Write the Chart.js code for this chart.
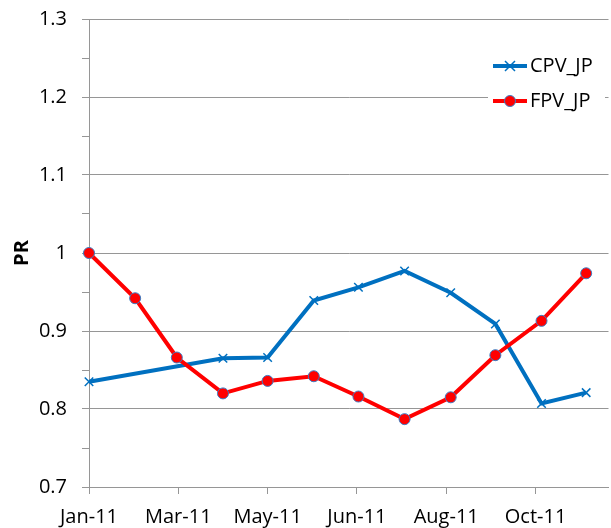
<!DOCTYPE html>
<html>
<head>
<meta charset="utf-8">
<script src="https://cdn.jsdelivr.net/npm/chart.js@4.4.1/dist/chart.umd.min.js"></script>
<style>
  html, body { margin: 0; padding: 0; background: #fff; overflow: hidden; }
  #wrap { width: 611px; height: 528px; overflow: hidden; }
</style>
</head>
<body>
<!-- canvas is a few px wider than the view so the plot runs to the right edge -->
<div id="wrap"><canvas id="chartPR" width="616" height="528"></canvas></div>
<script>
// monthly PR values, 2011
const months = ['2011-01-01', '2011-02-01', '2011-03-01', '2011-04-01', '2011-05-01', '2011-06-01',
                '2011-07-01', '2011-08-01', '2011-09-01', '2011-10-01', '2011-11-01', '2011-12-01'];
const cpvJP = [0.835, null, null, 0.865, 0.866, 0.939, 0.956, 0.977, 0.949, 0.909, 0.807, 0.821];
const fpvJP = [1.0, 0.942, 0.866, 0.820, 0.836, 0.842, 0.816, 0.787, 0.815, 0.869, 0.913, 0.974];

// date axis: ticks every 60 days from Jan 1
const xTickDays = [0, 60, 120, 180, 240, 300];
const xTickLabels = ['Jan-11', 'Mar-11', 'May-11', 'Jun-11', 'Aug-11', 'Oct-11'];
const yTickValues = [0.7, 0.8, 0.9, 1, 1.1, 1.2, 1.3];
const yTickLabels = ['0.7', '0.8', '0.9', '1', '1.1', '1.2', '1.3'];
const yMinorValues = [0.75, 0.85, 0.95, 1.05, 1.15, 1.25];

const FONT = 'Open Sans';
const GRID = '#969696';
const BLUE = '#0070c0';
const RED = '#ff0000';
const RING = '#3b7dc4';

const dayOf = d => Math.round((Date.parse(d) - Date.parse(months[0])) / 864e5);
const toPoints = vals => months.map((m, i) => ({x: dayOf(m), y: vals[i]}));

const isMajor = v => yTickValues.some(t => Math.abs(t - v) < 1e-6);

// legend box drawn inside the plot, top right
const legendBox = {
  id: 'legendBox',
  afterDraw(chart) {
    const ctx = chart.ctx;
    const items = [
      {label: 'CPV_JP', color: BLUE, marker: 'x', y: 66},
      {label: 'FPV_JP', color: RED, marker: 'o', y: 101}
    ];
    ctx.save();
    ctx.fillStyle = '#fff';
    ctx.fillRect(488, 46, 117, 72);
    items.forEach(it => {
      ctx.strokeStyle = it.color;
      ctx.lineWidth = 4;
      ctx.beginPath();
      ctx.moveTo(493, it.y);
      ctx.lineTo(527, it.y);
      ctx.stroke();
      const cx = 510;
      if (it.marker === 'x') {
        ctx.strokeStyle = BLUE;
        ctx.lineWidth = 1.5;
        ctx.beginPath();
        ctx.moveTo(cx - 5, it.y - 5); ctx.lineTo(cx + 5, it.y + 5);
        ctx.moveTo(cx - 5, it.y + 5); ctx.lineTo(cx + 5, it.y - 5);
        ctx.stroke();
      } else {
        ctx.fillStyle = RED;
        ctx.strokeStyle = RING;
        ctx.lineWidth = 1;
        ctx.beginPath();
        ctx.arc(cx, it.y, 5.5, 0, Math.PI * 2);
        ctx.fill();
        ctx.stroke();
      }
      ctx.fillStyle = '#000';
      ctx.font = '20px "' + FONT + '"';
      ctx.textBaseline = 'middle';
      ctx.textAlign = 'left';
      ctx.fillText(it.label, 530, it.y);
    });
    ctx.restore();
  }
};

new Chart(document.getElementById('chartPR'), {
  type: 'line',
  data: {
    datasets: [
      {
        label: 'CPV_JP',
        data: toPoints(cpvJP),
        borderColor: BLUE,
        borderWidth: 4,
        pointStyle: 'crossRot',
        pointRadius: 6,
        pointBorderWidth: 1.5,
        pointBorderColor: BLUE,
        spanGaps: true,
        tension: 0,
        clip: false,
        order: 1
      },
      {
        label: 'FPV_JP',
        data: toPoints(fpvJP),
        borderColor: RED,
        borderWidth: 4,
        pointStyle: 'circle',
        pointRadius: 5.5,
        pointBackgroundColor: RED,
        pointBorderColor: RING,
        pointBorderWidth: 1,
        tension: 0,
        clip: false,
        order: 0
      }
    ]
  },
  options: {
    responsive: false,
    animation: false,
    devicePixelRatio: 1,
    layout: {padding: {top: 19, right: 0, bottom: 0, left: 0}},
    plugins: {legend: {display: false}, tooltip: {enabled: false}},
    scales: {
      x: {
        type: 'linear',
        min: 0,
        max: 349,
        afterBuildTicks: s => { s.ticks = xTickDays.map(v => ({value: v})); },
        afterFit: s => { s.height = 41; s.paddingLeft = 0; s.paddingRight = 0; },
        ticks: {
          autoSkip: false,
          maxRotation: 0,
          color: '#000',
          padding: 11,
          font: {family: FONT, size: 20},
          callback: (v, i) => xTickLabels[i]
        },
        grid: {drawOnChartArea: false, tickLength: 7, tickColor: GRID, lineWidth: 1},
        border: {color: GRID, width: 1}
      },
      y: {
        min: 0.7,
        max: 1.3,
        afterBuildTicks: s => {
          s.ticks = yTickValues.concat(yMinorValues).sort((a, b) => a - b).map(v => ({value: v}));
        },
        afterFit: s => { s.width = 89; s.paddingTop = 0; s.paddingBottom = 0; },
        title: {
          display: true,
          text: 'PR',
          color: '#000',
          font: {family: FONT, size: 20, weight: 'bold'},
          padding: {top: 10, bottom: 0}
        },
        ticks: {
          color: '#000',
          padding: 15,
          font: {family: FONT, size: 20},
          callback: v => {
            const i = yTickValues.findIndex(t => Math.abs(t - v) < 1e-6);
            return i >= 0 ? yTickLabels[i] : '';
          }
        },
        grid: {
          color: c => (c.tick && isMajor(c.tick.value)) ? GRID : 'transparent',
          tickColor: GRID,
          tickLength: 7,
          lineWidth: 1
        },
        border: {color: GRID, width: 1}
      }
    }
  },
  plugins: [legendBox]
});
</script>
</body>
</html>
